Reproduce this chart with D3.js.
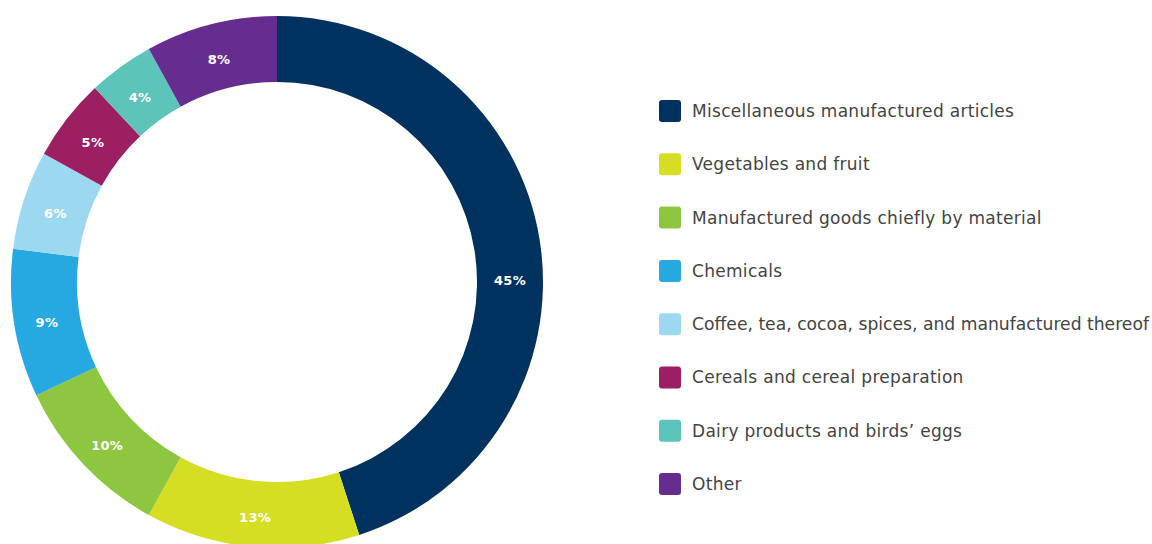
<!DOCTYPE html>
<html>
<head>
<meta charset="utf-8">
<script src="https://cdn.jsdelivr.net/npm/d3@7"></script>
<style>
  html, body { margin: 0; padding: 0; background: #fff; }
  svg { display: block; }
</style>
</head>
<body>
<svg id="chart" width="1152" height="544"></svg>
<script>
// Share of imports by product group (%)
const categories = [
  "Miscellaneous manufactured articles",
  "Vegetables and fruit",
  "Manufactured goods chiefly by material",
  "Chemicals",
  "Coffee, tea, cocoa, spices, and manufactured thereof",
  "Cereals and cereal preparation",
  "Dairy products and birds\u2019 eggs",
  "Other"
];
const shares = [45, 13, 10, 9, 6, 5, 4, 8];
const colors = ["#003260", "#d5de22", "#8dc740", "#26a9e0", "#9cd9f0", "#9d1f63", "#5dc4bc", "#662d91"];

const svg = d3.select("#chart");
const width = 1152;
const cx = 277, cy = 282, outerR = 266, innerR = 200;
const labelR = 233;

const data = categories.map((name, i) => ({ name, value: shares[i], color: colors[i] }));

const pie = d3.pie().value(d => d.value).sort(null);
const arc = d3.arc().innerRadius(innerR).outerRadius(outerR);
const arcs = pie(data);

const g = svg.append("g").attr("transform", `translate(${cx},${cy})`);

g.selectAll("path.slice")
  .data(arcs)
  .join("path")
  .attr("class", "slice")
  .attr("d", arc)
  .attr("fill", d => d.data.color);

// Labels sit at the middle of each slice; a slice that crosses 3 o'clock is labelled there
function labelAngle(d) {
  const east = Math.PI / 2;
  if (d.startAngle <= east && d.endAngle >= east) return east - 0.02;
  return (d.startAngle + d.endAngle) / 2;
}

g.selectAll("text.pct")
  .data(arcs)
  .join("text")
  .attr("class", "pct")
  .attr("x", d => labelR * Math.sin(labelAngle(d)))
  .attr("y", d => -labelR * Math.cos(labelAngle(d)))
  .attr("dy", "0.62em")
  .attr("text-anchor", "middle")
  .attr("fill", "#fff")
  .attr("font-family", "'DejaVu Sans', sans-serif")
  .attr("font-weight", 700)
  .attr("font-size", 13)
  .attr("letter-spacing", 0.3)
  .text(d => d.data.value + "%");

// Legend
const legendX = 659, legendY0 = 111, legendStep = 53.3, textX = 33;
const maxTextW = width - 3 - legendX - textX;
const legend = svg.append("g");
const items = legend.selectAll("g.item")
  .data(data)
  .join("g")
  .attr("class", "item")
  .attr("transform", (d, i) => `translate(${legendX},${legendY0 + i * legendStep})`);

items.append("rect")
  .attr("x", 0).attr("y", -11)
  .attr("width", 22).attr("height", 22)
  .attr("rx", 3).attr("ry", 3)
  .attr("fill", d => d.color);

items.append("text")
  .attr("x", textX)
  .attr("y", 0)
  .attr("dy", "0.35em")
  .attr("fill", "#444")
  .attr("font-family", "'DejaVu Sans', sans-serif")
  .attr("font-size", 17)
  .attr("letter-spacing", 0.3)
  .text(d => d.name)
  .each(function () {
    // keep long entries inside the right edge
    const w = this.getComputedTextLength();
    if (w > maxTextW) {
      d3.select(this)
        .attr("letter-spacing", 0)
        .attr("textLength", maxTextW)
        .attr("lengthAdjust", "spacingAndGlyphs");
    }
  });
</script>
</body>
</html>
